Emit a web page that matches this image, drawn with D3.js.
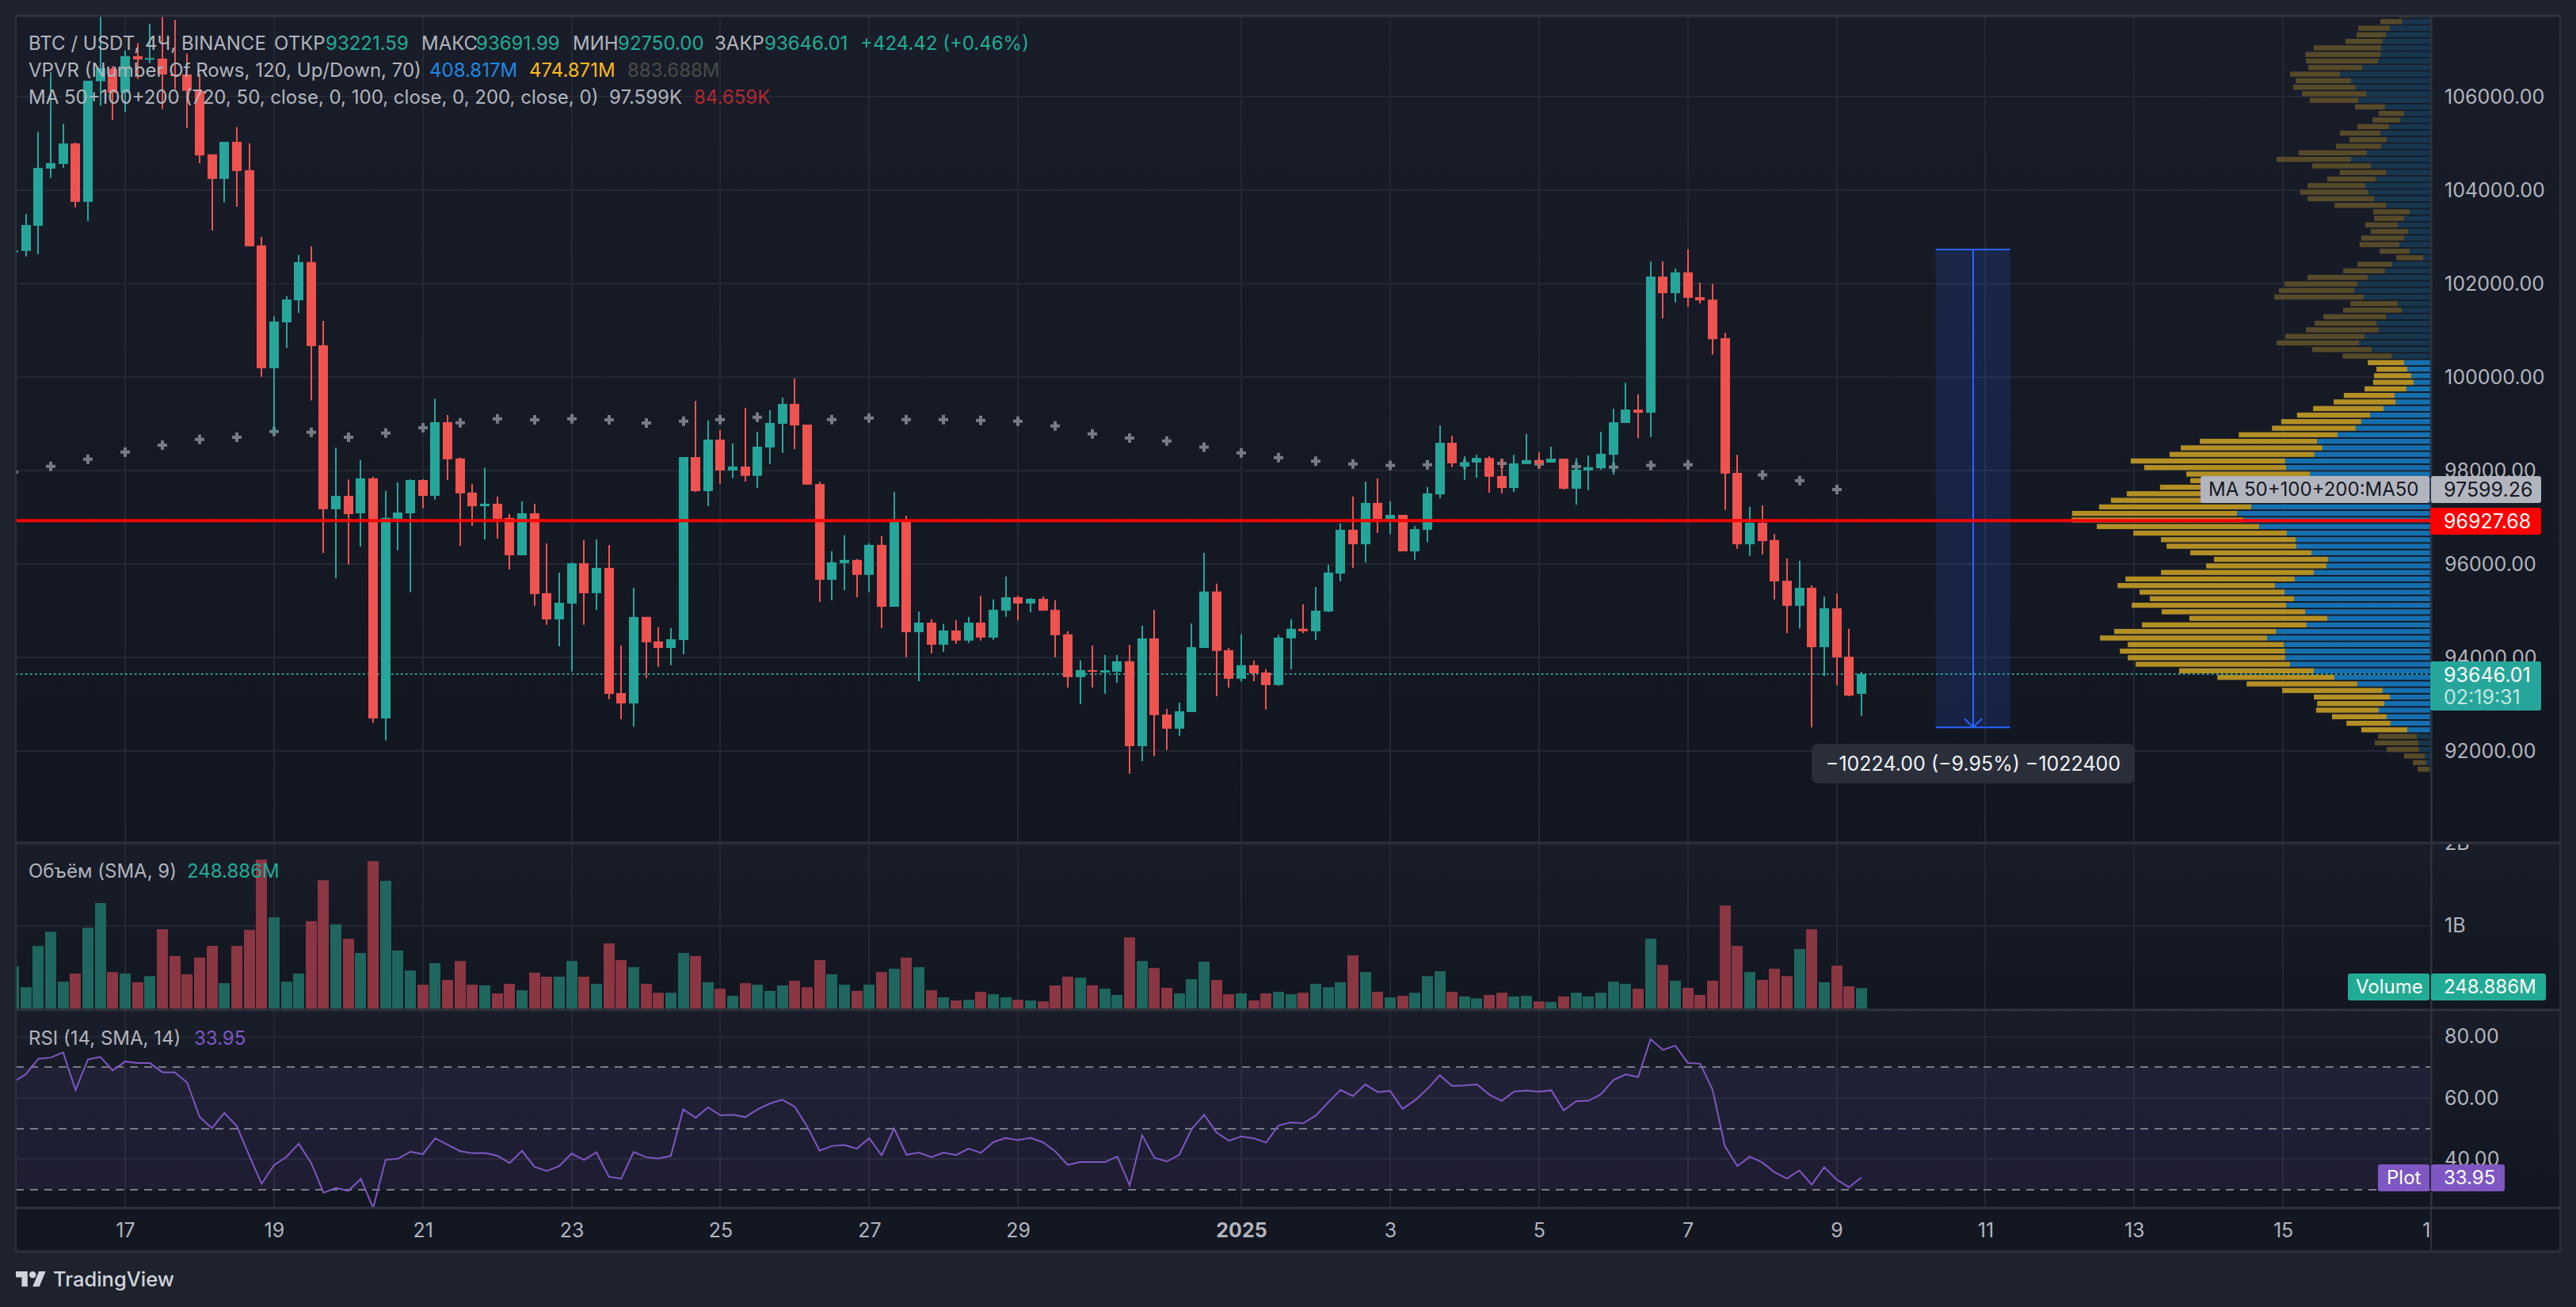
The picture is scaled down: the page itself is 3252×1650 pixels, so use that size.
<!DOCTYPE html>
<html>
<head>
<meta charset="utf-8">
<script src="https://cdnjs.cloudflare.com/ajax/libs/d3/7.8.5/d3.min.js"></script>
<style>
body{margin:0;background:#1e222d;overflow:hidden}
text{font-family:Inter,"Noto Sans",sans-serif;font-size:24px}
</style>
</head>
<body>
<div id="chart"></div>
<script>
// 4h bars, first one is 15 Dec 12:00 UTC, last one 9 Jan 08:00
var barOpen = [102664,102699,103236,104461,104560,104998,103749,106329,106597,106084,106866,106790,106813,106475,106475,106125,104765,104240,105033,104426,102816,100190,101170,101643,102460,100680,97172,97458,97085,97832,92696,96968,97085,97796,97458,99034,98258,97528,97236,97289,96985,96186,97085,95375,94814,95153,96016,95375,95917,93239,93017,94868,94343,94203,94372,98288,97559,98662,98002,98084,97886,98493,99000,99426,98983,97710,95662,96018,96088,95767,96409,95084,96899,94541,94746,94273,94577,94361,94746,94425,95003,95288,95154,95254,95020,94495,93579,93730,93678,93695,93917,92102,94407,92779,92476,92832,94203,95411,94156,93544,93835,93678,93411,94409,94614,94561,94984,95794,96732,96422,97307,96966,97050,96270,96732,97489,98593,98086,98170,98268,97882,97625,98139,98222,98170,98253,97610,98003,98048,98336,99017,99304,99236,102149,101794,102240,101710,101657,100833,97950,96422,96883,96513,95642,95105,95491,94220,95052,94016,93221.59]
var barHigh = [102750,103487,105249,106522,105419,105016,106341,107900,106656,106988,107146,107560,107800,107642,106918,106492,104765,105033,105348,104998,103002,101298,101730,102611,102798,101205,98491,97808,98223,97867,97563,97744,97814,97814,99536,99185,98275,97715,98053,97440,97067,97341,97289,96442,95812,96034,96513,96524,96408,94254,95491,94868,94647,94629,98288,99490,99070,98866,98580,99339,98831,99292,99561,99969,98983,97763,96275,96613,96106,96444,96596,97541,97033,94985,94816,94717,94798,94868,95324,95242,95732,95324,95271,95306,95224,94559,93935,94255,94051,94051,94273,94682,95020,92902,93036,94728,96240,95580,94203,94495,93935,93748,94485,94818,95136,95506,95983,96868,97443,97761,97829,97337,97050,96815,97648,98964,98745,98306,98336,98306,98253,98336,98782,98389,98510,98253,98268,98321,98828,99320,99879,99630,102475,102475,102323,102732,102021,101990,100946,98336,97224,97254,96641,96119,96066,95544,95302,95370,94614,93691.99]
var barLow = [102620,102582,102629,104263,104479,103633,103341,105804,105500,105664,106376,106714,105734,106160,105325,104578,103137,103738,103644,102798,100003,98800,100627,101374,99501,96238,95695,95987,96373,92597,92223,96291,95392,97190,97376,97796,96390,96816,96524,96542,95882,96186,95106,94698,94237,93700,94698,95019,93104,92678,92515,93561,93800,93835,94069,97541,97238,97710,97833,97763,97629,98137,98376,98457,97699,95189,95224,95440,95289,95394,94629,95084,94005,93491,94086,94121,94291,94308,94361,94372,94868,94798,94968,95003,94005,93357,93001,93357,93223,93462,91513,91781,91886,92020,92324,92832,94203,93170,93357,93479,93491,92884,93395,93744,94523,94371,94969,95627,95915,96036,96664,96641,96270,96089,96460,97405,98071,97799,97844,97526,97511,97542,98139,98041,98170,97594,97269,97579,98018,97912,99017,98692,98714,101256,101597,101506,101574,100477,97156,96323,96172,96202,95242,94523,94614,92503,93600,93411,93169,92750]
var barClose = [102710,103253,104473,104578,104998,103749,106341,106609,106084,106866,106796,106825,106475,106457,106125,104741,104240,105033,104409,102798,100190,101187,101660,102460,100662,97172,97458,97067,97832,92696,96985,97102,97796,97458,99034,98240,97511,97236,97289,96968,96186,97085,95357,94814,95170,96016,95375,95917,93221,93017,94867,94325,94203,94390,98288,97559,98662,98002,98084,97886,98510,99018,99426,98965,97699,95662,96036,96088,95767,96409,95084,96899,94541,94746,94273,94577,94361,94746,94425,95020,95288,95154,95254,95003,94477,93579,93730,93695,93724,93917,92102,94407,92767,92476,92849,94220,95411,94139,93544,93835,93660,93409,94424,94614,94561,95000,95816,96732,96422,97307,96966,97050,96270,96747,97511,98593,98154,98177,98268,97867,97625,98154,98222,98154,98253,97610,98018,98071,98359,99032,99304,99236,102149,101794,102240,101695,101642,100810,97935,96422,96883,96490,95627,95105,95491,94220,95052,94001,93184,93646.01]
// MA50 sampled every third bar
var maValues = [97966,98088,98240,98392,98544,98666,98713,98835,98818,98713,98800,98917,99022,99104,99086,99104,99086,99018,99053,99088,99140,99094,99088,99123,99088,99088,99070,99053,98954,98784,98697,98633,98498,98376,98275,98200,98139,98109,98124,98139,98154,98139,98086,98071,98109,98124,98026,97905,97784,97594]
// volume in millions
var volumeM = [509,260,758,929,327,424,978,1275,442,424,320,394,959,636,416,617,758,309,758,952,1799,1104,327,424,1056,1550,1018,844,673,1780,1543,703,461,290,550,349,576,290,282,186,301,223,435,387,387,576,387,301,788,587,502,301,193,193,673,636,320,242,156,309,290,216,282,338,260,587,416,290,216,290,442,483,617,502,223,138,100,108,204,175,138,108,100,89,282,387,375,282,242,167,862,576,491,253,186,357,569,349,175,186,100,186,204,175,193,301,260,320,643,442,204,138,156,193,394,453,204,149,126,167,193,149,156,89,82,149,193,149,193,327,301,242,844,528,338,253,167,338,1245,758,442,349,483,394,721,959,320,520,271,248.886]
var rsiValues = [65.2,67.8,72.8,73.2,74.9,62.6,72.6,73.4,69.0,71.9,71.4,71.4,68.4,68.4,65.0,53.8,50.1,55.1,50.8,41.2,31.9,38.0,40.7,45.0,38.7,29.0,30.5,29.6,33.5,24.0,39.7,40.1,42.4,41.6,46.8,44.7,42.6,41.9,42.0,41.1,38.7,42.7,37.5,36.1,37.7,41.8,39.7,42.2,34.2,33.6,42.3,40.6,40.2,41.0,56.3,53.5,56.9,54.3,54.5,53.7,56.3,58.2,59.4,57.1,50.6,42.7,44.3,44.6,43.4,46.8,41.2,50.0,41.4,42.1,40.6,42.1,41.3,43.4,42.0,45.5,46.9,46.2,46.9,45.5,42.5,38.1,39.0,39.0,39.0,40.8,31.4,47.8,40.4,39.2,41.4,49.8,54.5,48.7,46.0,47.4,46.8,45.4,51.0,52.0,51.7,54.2,58.5,62.6,60.6,64.4,61.9,62.3,56.4,59.2,62.9,67.4,63.9,64.1,64.4,61.1,59.0,62.1,62.4,62.0,62.5,55.9,58.9,59.1,61.2,65.8,67.7,66.8,79.2,75.7,77.1,71.5,71.2,62.7,44.2,37.7,40.8,38.9,35.7,33.6,36.3,31.6,37.3,33.3,30.8,33.95]
// volume profile rows from the top row down, millions
var vpUp = [6.2,8.5,12.2,13.4,14.4,14.9,15.1,15.8,20.6,27.4,24.0,22.6,19.4,21.8,13.7,7.9,9.1,12.5,15.1,13.2,14.9,19.2,24.0,18.0,13.4,16.5,19.7,18.7,17.0,13.4,6.2,7.9,9.8,6.7,7.9,9.3,6.2,2.1,11.5,13.7,18.9,22.1,23.0,20.2,9.8,8.6,13.4,16.3,15.6,19.9,21.6,17.7,11.7,7.9,6.9,5.7,5.0,7.2,10.8,10.5,14.1,18.2,20.9,22.6,28.1,34.3,32.7,35.1,44.0,43.7,36.5,35.5,40.5,46.5,50.5,54.3,58.6,56.7,51.9,43.5,40.8,40.6,36.0,31.0,31.5,35.3,41.1,47.1,44.2,41.3,43.7,37.9,31.2,37.5,46.8,49.5,44.4,44.0,44.0,42.5,35.3,29.0,22.1,14.4,12.2,13.9,15.6,13.2,12.0,6.9,4.0,3.6,3.3,1.6,1.2,0.2]
var vpDown = [3.3,6.6,9.6,8.9,11.3,20.4,22.8,21.9,16.4,15.1,16.8,19.0,19.5,14.7,9.1,7.7,8.4,9.6,12.3,11.3,13.7,20.7,22.6,17.8,14.0,14.7,17.5,20.7,20.2,15.6,11.1,9.1,9.9,11.3,13.0,12.1,9.1,8.2,10.6,12.7,18.3,22.1,22.9,27.1,14.4,17.8,19.0,18.8,22.1,24.1,25.0,18.1,14.9,11.0,9.4,11.3,12.3,12.7,15.4,18.8,21.4,22.2,24.3,25.4,30.0,35.6,43.0,44.0,46.9,43.1,37.5,37.3,41.5,45.6,46.4,46.2,50.1,52.2,49.3,46.6,40.9,39.4,36.8,34.6,36.5,46.4,51.4,47.8,44.0,43.8,46.9,43.6,41.9,50.0,49.1,50.7,47.4,50.2,47.8,46.9,40.9,35.6,33.6,30.5,23.1,20.4,19.0,16.6,13.4,14.0,11.8,13.2,9.9,6.3,4.0,3.6]

var priceTicks = [92000,94000,96000,98000,100000,102000,104000,106000]
var volumeTicks = [1000,2000]
var volumeTickLabels = ["1B","2B"]
var rsiTicks = [40,60,80]
var rsiBands = [30,50,70]
var timeTicks = ["2024-12-17","2024-12-19","2024-12-21","2024-12-23","2024-12-25","2024-12-27","2024-12-29","2025-01-01","2025-01-03","2025-01-05","2025-01-07","2025-01-09","2025-01-11","2025-01-13","2025-01-15","2025-01-17"]
var timeLabels = ["17","19","21","23","25","27","29","2025","3","5","7","9","11","13","15","17"]

var lastPrice = 93646.01
var redLevel = 96927.68
var maLast = 97599.26
var measureTop = 102729
var measureBottom = 92505
var measureFrom = "2025-01-10T08:00Z"
var measureTo = "2025-01-11T08:00Z"
var vpBottomRow = 91610
var vpRowStep = 140.3

var up = "#26a69a", down = "#ef5350"
var textGrey = "#b2b5be", gridColor = "#242833", sepColor = "#2e323c"
var width = 3252, height = 1650
var left = 20, axisX = 3069, frameRight = 3232
var mainTop = 20, mainBottom = 1063, volTop = 1066, volBottom = 1274, rsiTop = 1276, rsiBottom = 1525, frameBottom = 1580
var axisFont = "25px"

var svg = d3.select("#chart").append("svg").attr("width",width).attr("height",height).style("display","block")
var defs = svg.append("defs")
var grad = defs.append("linearGradient").attr("id","paneBg").attr("x1",0).attr("x2",0).attr("y1",0).attr("y2",1)
grad.append("stop").attr("offset",0).attr("stop-color","#191d29")
grad.append("stop").attr("offset",1).attr("stop-color","#121620")

function clip(id,x,y,w,h){
    defs.append("clipPath").attr("id",id).append("rect").attr("x",x).attr("y",y).attr("width",w).attr("height",h)
}
clip("mainClip",left,mainTop,axisX-left,mainBottom-mainTop)
clip("volClip",left,volTop,axisX-left,volBottom-volTop)
clip("rsiClip",left,rsiTop,axisX-left,rsiBottom-rsiTop)
clip("timeClip",left,rsiBottom,axisX-left,frameBottom-rsiBottom)
clip("volAxisClip",axisX,volTop,frameRight-axisX,volBottom-volTop)

// scales
var barMs = 4*3600*1000
var firstBar = Date.UTC(2024,11,15,12)
function barTime(i){ return new Date(firstBar+i*barMs) }
var x = d3.scaleUtc().domain([new Date("2024-12-17T00:00Z"),new Date("2025-01-17T00:00Z")]).range([158,3070])
var y = d3.scaleLinear().domain([92000,106000]).range([948,122])
var yVol = d3.scaleLinear().domain([0,1000]).range([1273.5,1168.8])
var yRsi = d3.scaleLinear().domain([40,80]).range([1463.2,1308.9])
var vpX = d3.scaleLinear().domain([0,100]).range([0,415.8])

var bars = d3.range(barOpen.length).map(function(i){
    return {i:i,t:barTime(i),o:barOpen[i],h:barHigh[i],l:barLow[i],c:barClose[i],v:volumeM[i],rsi:rsiValues[i]}
})
function barX(d){ return Math.round(x(d.t)) }

// pane backgrounds
var panes = [[mainTop,mainBottom],[volTop,volBottom],[rsiTop,rsiBottom]]
svg.selectAll(".pane").data(panes).enter().append("rect").attr("class","pane")
.attr("x",left).attr("y",function(d){return d[0]}).attr("width",frameRight-left).attr("height",function(d){return d[1]-d[0]})
.attr("fill","url(#paneBg)")
svg.append("rect").attr("x",left).attr("y",rsiBottom).attr("width",frameRight-left).attr("height",frameBottom-rsiBottom).attr("fill","#131722")

// vertical grid
var tickDates = timeTicks.map(function(d){return new Date(d+"T00:00Z")})
panes.forEach(function(p){
    svg.append("g").selectAll("line").data(tickDates).enter().append("line")
    .attr("x1",function(d){return Math.round(x(d))}).attr("x2",function(d){return Math.round(x(d))})
    .attr("y1",p[0]).attr("y2",p[1]).attr("stroke",gridColor).attr("stroke-width",2)
})
function hGrid(values,scale){
    svg.append("g").selectAll("line").data(values).enter().append("line")
    .attr("x1",left).attr("x2",axisX).attr("y1",function(d){return Math.round(scale(d))}).attr("y2",function(d){return Math.round(scale(d))})
    .attr("stroke",gridColor).attr("stroke-width",2)
}
hGrid(priceTicks,y)
hGrid(volumeTicks,yVol)
hGrid(rsiTicks,yRsi)

// main pane
var main = svg.append("g").attr("clip-path","url(#mainClip)")

// volume profile
var rows = vpUp.map(function(u,r){
    return {r:r,up:u,down:vpDown[r],price:vpBottomRow+vpRowStep*(vpUp.length-1-r),bright:r>=53&&r<=109}
})
main.selectAll(".vpUp").data(rows).enter().append("rect").attr("class","vpUp")
.attr("x",function(d){return axisX-1.2-vpX(d.up)}).attr("y",function(d){return y(d.price)-3.2})
.attr("width",function(d){return vpX(d.up)}).attr("height",6.4)
.attr("fill",function(d){return d.bright?"#166fae":"#17374f"})
main.selectAll(".vpDown").data(rows).enter().append("rect").attr("class","vpDown")
.attr("x",function(d){return axisX-1.2-vpX(d.up)-vpX(d.down)}).attr("y",function(d){return y(d.price)-3.2})
.attr("width",function(d){return vpX(d.down)}).attr("height",6.4)
.attr("fill",function(d){return d.bright?"#b38f24":"#574a29"})

// measure tool
var mx0 = x(new Date(measureFrom)), mx1 = x(new Date(measureTo))
var my0 = y(measureTop), my1 = y(measureBottom)
var mxc = Math.round((mx0+mx1)/2)
main.append("rect").attr("x",mx0).attr("y",my0).attr("width",mx1-mx0).attr("height",my1-my0).attr("fill","#2962ff").attr("fill-opacity",.16)
main.selectAll(".mEdge").data([my0,my1]).enter().append("line").attr("class","mEdge")
.attr("x1",mx0).attr("x2",mx1).attr("y1",function(d){return d}).attr("y2",function(d){return d}).attr("stroke","#2962ff").attr("stroke-width",2)
main.append("line").attr("x1",mxc).attr("x2",mxc).attr("y1",my0).attr("y2",my1).attr("stroke","#2962ff").attr("stroke-width",2)
main.append("path").attr("d","M"+(mxc-11)+","+(my1-11)+"L"+mxc+","+my1+"L"+(mxc+11)+","+(my1-11)).attr("fill","none").attr("stroke","#2962ff").attr("stroke-width",2)

// last price dotted line
main.append("line").attr("x1",left).attr("x2",axisX).attr("y1",y(lastPrice)).attr("y2",y(lastPrice))
.attr("stroke",up).attr("stroke-width",2).attr("stroke-dasharray","2.5,3.5")

// ma crosses sit under the candles
var cross = d3.symbol().type(d3.symbolCross).size(80)
main.selectAll(".ma").data(maValues).enter().append("path").attr("class","ma")
.attr("d",cross)
.attr("transform",function(d,i){return "translate("+Math.round(x(barTime(i*3)))+","+y(d)+")"})
.attr("fill","#787b86")

// candles
main.selectAll(".wick").data(bars).enter().append("line").attr("class","wick")
.attr("x1",barX).attr("x2",barX).attr("y1",function(d){return y(d.h)}).attr("y2",function(d){return y(d.l)})
.attr("stroke",function(d){return d.c>=d.o?up:down}).attr("stroke-width",2)
main.selectAll(".body").data(bars).enter().append("rect").attr("class","body")
.attr("x",function(d){return barX(d)-6}).attr("width",12)
.attr("y",function(d){return y(Math.max(d.o,d.c))})
.attr("height",function(d){return Math.max(2,Math.abs(y(d.o)-y(d.c)))})
.attr("fill",function(d){return d.c>=d.o?up:down})

// red level
main.append("line").attr("x1",left).attr("x2",axisX).attr("y1",y(redLevel)).attr("y2",y(redLevel)).attr("stroke","#ff0000").attr("stroke-width",4)

// volume pane
svg.append("g").attr("clip-path","url(#volClip)").selectAll("rect").data(bars).enter().append("rect")
.attr("x",function(d){return barX(d)-7}).attr("width",14)
.attr("y",function(d){return yVol(d.v)}).attr("height",function(d){return yVol(0)-yVol(d.v)})
.attr("fill",function(d){return d.c>=d.o?"#1f665e":"#8b3643"})

// rsi pane
var rsiG = svg.append("g").attr("clip-path","url(#rsiClip)")
rsiG.append("rect").attr("x",left).attr("width",axisX-left).attr("y",yRsi(70)).attr("height",yRsi(30)-yRsi(70)).attr("fill","#7e57c2").attr("fill-opacity",.1)
rsiG.selectAll(".band").data(rsiBands).enter().append("line").attr("class","band")
.attr("x1",left).attr("x2",axisX).attr("y1",function(d){return Math.round(yRsi(d))}).attr("y2",function(d){return Math.round(yRsi(d))})
.attr("stroke","#787b86").attr("stroke-width",2).attr("stroke-dasharray","10,8")
var rsiLine = d3.line().x(function(d){return x(d.t)}).y(function(d){return yRsi(d.rsi)})
rsiG.append("path").datum(bars).attr("d",rsiLine).attr("fill","none").attr("stroke","#7e57c2").attr("stroke-width",2)

// frame and separators
var seps = [mainTop,mainBottom+1,volBottom+1,rsiBottom,frameBottom]
svg.selectAll(".sep").data(seps).enter().append("line").attr("class","sep")
.attr("x1",left).attr("x2",frameRight).attr("y1",function(d){return d}).attr("y2",function(d){return d})
.attr("stroke",sepColor).attr("stroke-width",3)
svg.selectAll(".vsep").data([left,axisX,frameRight]).enter().append("line").attr("class","vsep")
.attr("x1",function(d){return d}).attr("x2",function(d){return d}).attr("y1",mainTop).attr("y2",frameBottom)
.attr("stroke",sepColor).attr("stroke-width",2)

// axes
function styleAxis(g){
    g.select(".domain").remove()
    g.selectAll(".tick line").remove()
    g.selectAll("text").attr("fill",textGrey).style("font-family","Inter,sans-serif").style("font-size",axisFont)
}
svg.append("g").attr("transform","translate("+axisX+",0)")
.call(d3.axisRight(y).tickValues(priceTicks).tickFormat(function(d){return d.toFixed(2)}).tickSize(0).tickPadding(17)).call(styleAxis)
svg.append("g").attr("clip-path","url(#volAxisClip)").append("g").attr("transform","translate("+axisX+",0)")
.call(d3.axisRight(yVol).tickValues(volumeTicks).tickFormat(function(d,i){return volumeTickLabels[i]}).tickSize(0).tickPadding(17)).call(styleAxis)
svg.append("g").attr("transform","translate("+axisX+",0)")
.call(d3.axisRight(yRsi).tickValues(rsiTicks).tickFormat(function(d){return d.toFixed(2)}).tickSize(0).tickPadding(17)).call(styleAxis)
var timeG = svg.append("g").attr("clip-path","url(#timeClip)").append("g").attr("transform","translate(0,"+(rsiBottom+12)+")")
.call(d3.axisBottom(x).tickValues(tickDates).tickFormat(function(d,i){return timeLabels[i]}).tickSize(0).tickPadding(7)).call(styleAxis)
timeG.selectAll("text").style("font-weight",function(d,i){return timeLabels[i]=="2025"?700:400})

// legends
function label(parts,yy,size){
    parts.forEach(function(p){
        var t = svg.append("text").attr("x",p[0]).attr("y",yy).attr("dy","0.35em").attr("fill",p[2]).text(p[1])
        if(size){ t.style("font-size",size) }
    })
}
var teal = "#22ab94"
label([[36,"BTC / USDT, 4Ч, BINANCE",textGrey],[346,"ОТКР",textGrey],[411,"93221.59",teal],[532,"МАКС",textGrey],[601,"93691.99",teal],[723,"МИН",textGrey],[780,"92750.00",teal],[902,"ЗАКР",textGrey],[965,"93646.01",teal],[1086,"+424.42 (+0.46%)",teal]],55)
label([[36,"VPVR (Number Of Rows, 120, Up/Down, 70)",textGrey],[542,"408.817M","#1e88e5"],[668,"474.871M","#ffb921"],[792,"883.688M","#4a4a48"]],89)
label([[36,"MA 50+100+200 (720, 50, close, 0, 100, close, 0, 200, close, 0)",textGrey],[769,"97.599K",textGrey],[876,"84.659K","#b22833"]],123)
label([[36,"Объём (SMA, 9)",textGrey],[236,"248.886M",teal]],1100)
label([[36,"RSI (14, SMA, 14)",textGrey],[245,"33.95","#7e57c2"]],1311)

// measure label
svg.append("rect").attr("x",2287).attr("y",939).attr("width",408).attr("height",50).attr("rx",8).attr("fill","#2a2e39")
svg.append("text").attr("x",2491).attr("y",964).attr("dy","0.35em").attr("text-anchor","middle").attr("fill","#f0f3fa").style("font-size","25px").text("\u221210224.00 (\u22129.95%) \u22121022400")

// axis plates
function plate(x0,x1,y0,y1,fill){
    svg.append("rect").attr("x",x0).attr("y",y0).attr("width",x1-x0).attr("height",y1-y0).attr("rx",3).attr("fill",fill)
}
plate(2778,3067,601,635,"#b2b5be")
plate(3069,3208,601,635,"#b2b5be")
label([[2788,"MA 50+100+200:MA50","#131722"]],618)
label([[3085,d3.format(".2f")(maLast),"#131722"]],618,axisFont)
plate(3068,3208,641,675,"#ff0000")
label([[3085,d3.format(".2f")(redLevel),"#ffffff"]],658,axisFont)
plate(3068,3208,835,897,up)
label([[3085,d3.format(".2f")(lastPrice),"#ffffff"]],852,axisFont)
label([[3085,"02:19:31","#c2e6e2"]],880,axisFont)
plate(2964,3067,1229,1263,"#22ab94")
plate(3069,3214,1229,1263,"#22ab94")
label([[2974,"Volume","#ffffff"],[3085,"248.886M","#ffffff"]],1246)
plate(3002,3067,1470,1504,"#7e57c2")
plate(3069,3162,1470,1504,"#7e57c2")
label([[3013,"Plot","#ffffff"],[3085,"33.95","#ffffff"]],1487)

// tradingview mark
var logo = svg.append("g").attr("transform","translate(20,1603) scale(1.06)").attr("fill","#d1d4dc")
logo.append("path").attr("d","M14 20H7V9H0V2h14v18zM28 20h-8l7.5-18h8L28 20z")
logo.append("circle").attr("cx",20).attr("cy",6).attr("r",4)
svg.append("text").attr("x",67).attr("y",1615).attr("dy","0.35em").attr("fill","#d1d4dc").style("font-size","25.5px").style("font-weight",500).text("TradingView")
</script>
</body>
</html>
